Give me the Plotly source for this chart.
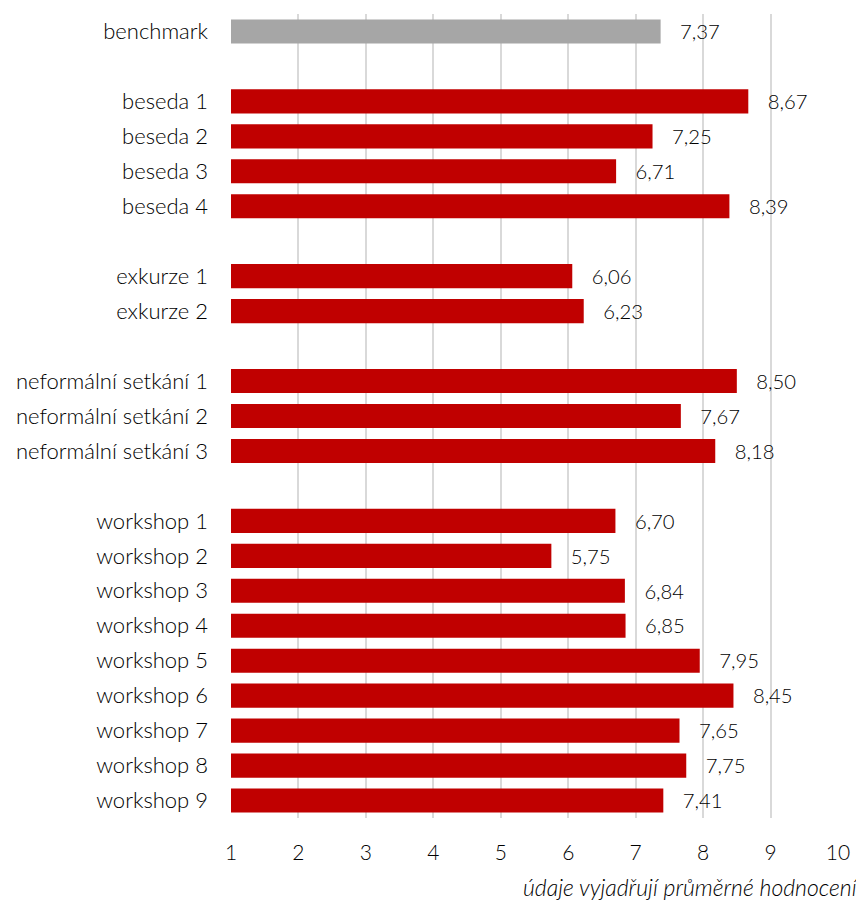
import plotly.graph_objects as go

categories = ["benchmark", " ",
              "beseda 1", "beseda 2", "beseda 3", "beseda 4", "  ",
              "exkurze 1", "exkurze 2", "   ",
              "neformální setkání 1", "neformální setkání 2", "neformální setkání 3", "    ",
              "workshop 1", "workshop 2", "workshop 3", "workshop 4", "workshop 5",
              "workshop 6", "workshop 7", "workshop 8", "workshop 9"]
values = [7.37, None,
          8.67, 7.25, 6.71, 8.39, None,
          6.06, 6.23, None,
          8.50, 7.67, 8.18, None,
          6.70, 5.75, 6.84, 6.85, 7.95, 8.45, 7.65, 7.75, 7.41]
tick_vals = [1, 2, 3, 4, 5, 6, 7, 8, 9, 10]
footnote = "údaje vyjadřují průměrné hodnocení"
AXIS_MIN = 1

colors = ["#A6A6A6" if c == "benchmark" else "#C00000" for c in categories]
texts = ["" if v is None else "   " + f"{v:.2f}".replace(".", ",") for v in values]
lengths = [None if v is None else v - AXIS_MIN for v in values]

FONT = "Lato"
TXT = "#000000"
W = 300
fig = go.Figure(go.Bar(
    y=categories, x=lengths, base=AXIS_MIN, orientation="h",
    marker=dict(color=colors, line=dict(width=0)),
    text=texts, textposition="outside", cliponaxis=False,
    textfont=dict(family=FONT, size=23.5, color=TXT, weight=W),
    hoverinfo="skip",
))

fig.update_layout(
    width=864, height=901,
    margin=dict(l=223, r=34, t=5.5, b=90.5, autoexpand=False),
    paper_bgcolor="white", plot_bgcolor="white",
    bargap=0.31, showlegend=False,
    font=dict(family=FONT, size=22, color=TXT, weight=W),
    xaxis=dict(range=[1, 10], tickvals=tick_vals, showgrid=True, gridcolor="#D9D9D9",
               gridwidth=1.5, zeroline=False, showline=False, ticks="",
               ticklabelstandoff=20,
               tickfont=dict(family=FONT, size=21, color=TXT, weight=W)),
    yaxis=dict(type="category", categoryorder="array", categoryarray=categories,
               autorange="reversed", showgrid=False, ticks="", ticklen=0,
               ticklabelstandoff=22,
               tickfont=dict(family=FONT, size=22, color=TXT, weight=W)),
    annotations=[dict(text="<i>" + footnote + "</i>", xref="paper", yref="paper",
                      x=1.036, y=-0.0863, xanchor="right", yanchor="middle", showarrow=False,
                      font=dict(family=FONT, size=23, color=TXT, weight=W))],
)
fig.write_html("out.html")
